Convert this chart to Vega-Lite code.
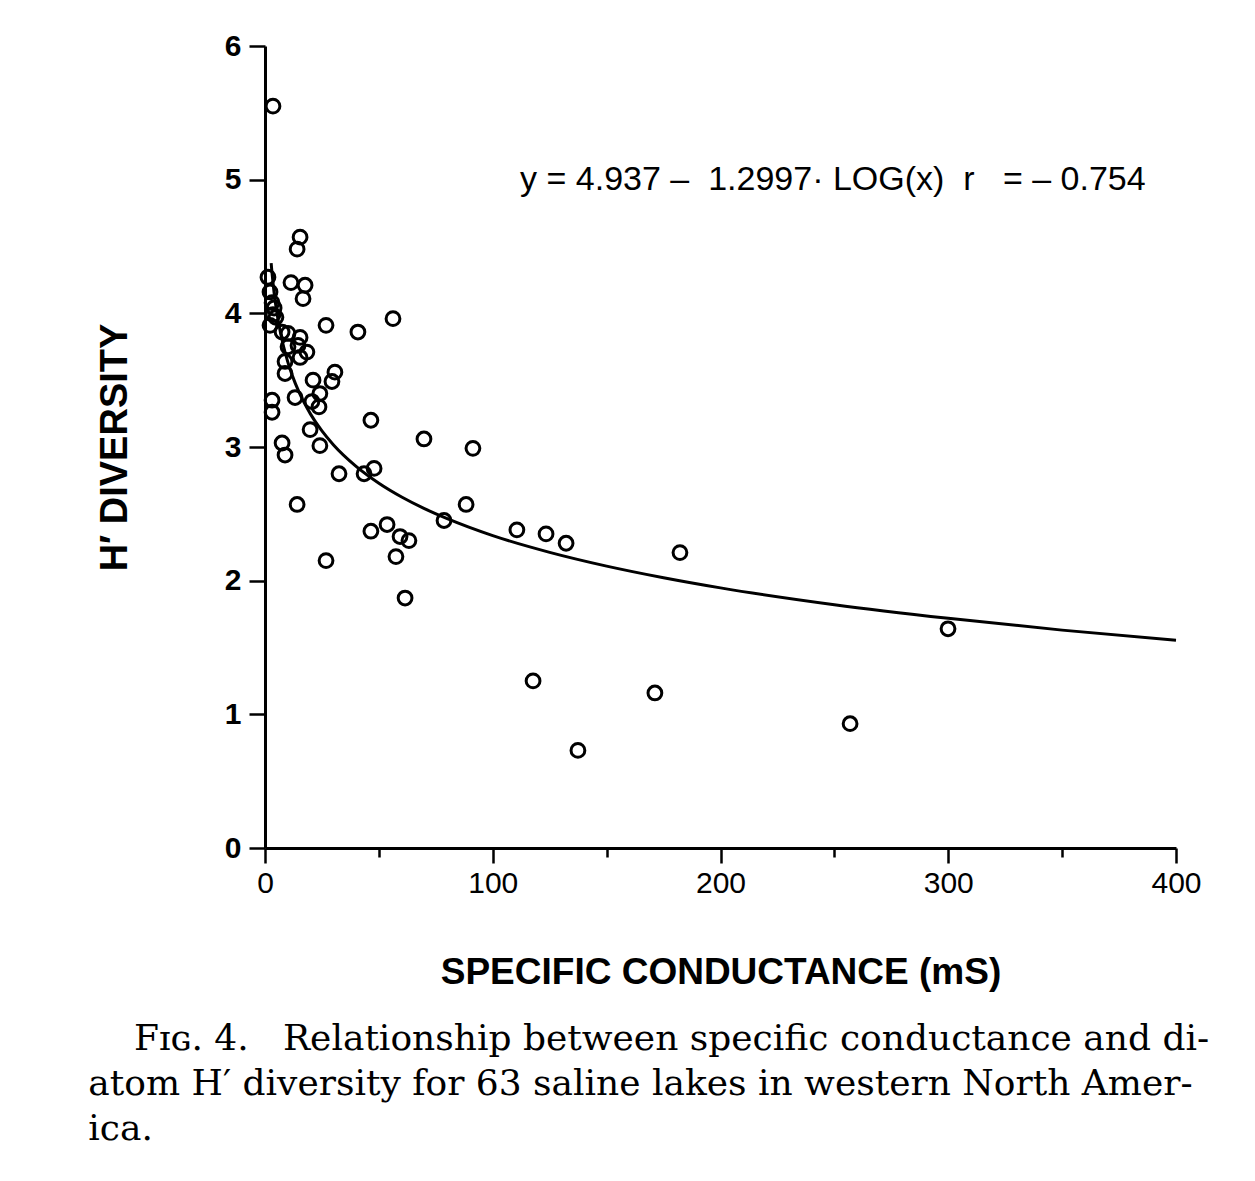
{
  "$schema": "https://vega.github.io/schema/vega-lite/v6.json",
  "autosize": {"type": "none"},
  "width": 911,
  "height": 802,
  "padding": {"left": 265, "top": 46, "right": 79, "bottom": 333},
  "background": "white",
  "config": {"view": {"stroke": null}},
  "title": {
    "text": ["\u200b\u00a0\u00a0\u00a0\u00a0F\u026a\u0262. 4.\u00a0\u00a0\u00a0Relationship between specific conductance and di-", "atom H\u2032 diversity for 63 saline lakes in western North Amer-", "ica."],
    "orient": "bottom",
    "anchor": "start",
    "align": "left",
    "frame": "bounds",
    "dx": -8,
    "offset": 32,
    "font": "DejaVu Serif",
    "fontSize": 36,
    "fontWeight": "normal",
    "lineHeight": 45,
    "color": "black"
  },
  "datasets": {
    "lakes": [
      {"cond": 3.5, "h": 5.55}, {"cond": 15.4, "h": 4.57}, {"cond": 14.1, "h": 4.48},
      {"cond": 1.3, "h": 4.27}, {"cond": 11.4, "h": 4.23}, {"cond": 17.6, "h": 4.21},
      {"cond": 16.7, "h": 4.11}, {"cond": 2.2, "h": 4.16}, {"cond": 3.1, "h": 4.08},
      {"cond": 3.5, "h": 3.99}, {"cond": 2.2, "h": 3.91}, {"cond": 7.5, "h": 3.86},
      {"cond": 10.1, "h": 3.85}, {"cond": 15.4, "h": 3.82}, {"cond": 10.1, "h": 3.75},
      {"cond": 18.4, "h": 3.71}, {"cond": 15.4, "h": 3.67}, {"cond": 8.8, "h": 3.64},
      {"cond": 8.8, "h": 3.55}, {"cond": 30.7, "h": 3.56}, {"cond": 29.4, "h": 3.49},
      {"cond": 21.1, "h": 3.5}, {"cond": 24.1, "h": 3.4}, {"cond": 13.2, "h": 3.37},
      {"cond": 20.6, "h": 3.34}, {"cond": 23.7, "h": 3.3}, {"cond": 3.1, "h": 3.35},
      {"cond": 3.1, "h": 3.26}, {"cond": 19.8, "h": 3.13}, {"cond": 24.1, "h": 3.01},
      {"cond": 7.5, "h": 3.03}, {"cond": 8.8, "h": 2.94}, {"cond": 26.8, "h": 3.91},
      {"cond": 40.8, "h": 3.86}, {"cond": 56.2, "h": 3.96}, {"cond": 46.5, "h": 3.2},
      {"cond": 69.8, "h": 3.06}, {"cond": 91.3, "h": 2.99}, {"cond": 32.5, "h": 2.8},
      {"cond": 43.5, "h": 2.8}, {"cond": 47.9, "h": 2.84}, {"cond": 14.1, "h": 2.57},
      {"cond": 88.3, "h": 2.57}, {"cond": 78.6, "h": 2.45}, {"cond": 26.8, "h": 2.15},
      {"cond": 46.5, "h": 2.37}, {"cond": 53.6, "h": 2.42}, {"cond": 59.3, "h": 2.33},
      {"cond": 63.2, "h": 2.3}, {"cond": 57.5, "h": 2.18}, {"cond": 61.5, "h": 1.87},
      {"cond": 110.6, "h": 2.38}, {"cond": 123.4, "h": 2.35}, {"cond": 132.2, "h": 2.28},
      {"cond": 182.2, "h": 2.21}, {"cond": 299.9, "h": 1.64}, {"cond": 117.7, "h": 1.25},
      {"cond": 171.2, "h": 1.16}, {"cond": 256.9, "h": 0.93}, {"cond": 137.4, "h": 0.73},
      {"cond": 4.8, "h": 3.97}, {"cond": 4.0, "h": 4.04}, {"cond": 14.5, "h": 3.76}
    ],
    "fit": [
      {"cond": 2.7, "h": 4.376}, {"cond": 3, "h": 4.317}, {"cond": 4, "h": 4.154},
      {"cond": 5, "h": 4.028}, {"cond": 6, "h": 3.926}, {"cond": 8, "h": 3.763},
      {"cond": 10, "h": 3.637}, {"cond": 12, "h": 3.534}, {"cond": 15, "h": 3.408},
      {"cond": 20, "h": 3.246}, {"cond": 25, "h": 3.12}, {"cond": 30, "h": 3.017},
      {"cond": 40, "h": 2.855}, {"cond": 50, "h": 2.729}, {"cond": 60, "h": 2.626},
      {"cond": 70, "h": 2.539}, {"cond": 80, "h": 2.464}, {"cond": 100, "h": 2.337},
      {"cond": 125, "h": 2.212}, {"cond": 150, "h": 2.109}, {"cond": 175, "h": 2.022},
      {"cond": 200, "h": 1.946}, {"cond": 250, "h": 1.82}, {"cond": 300, "h": 1.718},
      {"cond": 350, "h": 1.63}, {"cond": 400, "h": 1.555}
    ],
    "eq": [
      {"cond": 112, "h": 5.0, "label": "y = 4.937 \u2013\u00a0 1.2997\u00b7\u00a0LOG(x)\u00a0 r\u00a0\u00a0 = \u2013 0.754"}
    ]
  },
  "layer": [
    {
      "data": {"name": "lakes"},
      "mark": {"type": "point", "shape": "circle", "filled": false, "size": 190, "strokeWidth": 3, "color": "black", "opacity": 1},
      "encoding": {
        "x": {
          "field": "cond", "type": "quantitative",
          "scale": {"domain": [0, 400], "nice": false, "zero": true},
          "axis": {
            "title": "SPECIFIC CONDUCTANCE (mS)",
            "values": [0, 50, 100, 150, 200, 250, 300, 350, 400],
            "labelExpr": "datum.value % 100 === 0 ? datum.label : ''",
            "tickSize": {"condition": {"test": "datum.value % 100 === 0", "value": 15}, "value": 9},
            "tickWidth": 2.5,
            "tickColor": "black",
            "domainColor": "black",
            "domainWidth": 3,
            "grid": false,
            "labelFont": "Liberation Sans",
            "labelFontSize": 30,
            "labelColor": "black",
            "labelPadding": 5,
            "labelFlush": false,
            "titleFont": "Liberation Sans",
            "titleFontSize": 37,
            "titleFontWeight": "bold",
            "titleColor": "black",
            "titlePadding": 56
          }
        },
        "y": {
          "field": "h", "type": "quantitative",
          "scale": {"domain": [0, 6], "nice": false},
          "axis": {
            "title": "H\u2032 DIVERSITY",
            "values": [0, 0.5, 1, 1.5, 2, 2.5, 3, 3.5, 4, 4.5, 5, 5.5, 6],
            "format": "d",
            "labelExpr": "datum.value % 1 === 0 ? datum.label : ''",
            "tickSize": {"condition": {"test": "datum.value % 1 === 0", "value": 16}, "value": 9},
            "tickWidth": 2.5,
            "tickColor": "black",
            "domainColor": "black",
            "domainWidth": 3,
            "grid": false,
            "labelFont": "Liberation Sans",
            "labelFontSize": 30,
            "labelFontWeight": "bold",
            "labelColor": "black",
            "labelPadding": 8,
            "labelFlush": false,
            "titleFont": "Liberation Sans",
            "titleFontSize": 38,
            "titleFontWeight": "bold",
            "titleColor": "black",
            "titlePadding": 90
          }
        }
      }
    },
    {
      "data": {"name": "fit"},
      "mark": {"type": "line", "color": "black", "strokeWidth": 3, "interpolate": "monotone"},
      "encoding": {
        "x": {"field": "cond", "type": "quantitative"},
        "y": {"field": "h", "type": "quantitative"}
      }
    },
    {
      "data": {"name": "eq"},
      "mark": {"type": "text", "align": "left", "baseline": "middle", "font": "Liberation Sans", "fontSize": 34, "fontWeight": "normal", "color": "black"},
      "encoding": {
        "x": {"field": "cond", "type": "quantitative"},
        "y": {"field": "h", "type": "quantitative"},
        "text": {"field": "label"}
      }
    }
  ]
}
